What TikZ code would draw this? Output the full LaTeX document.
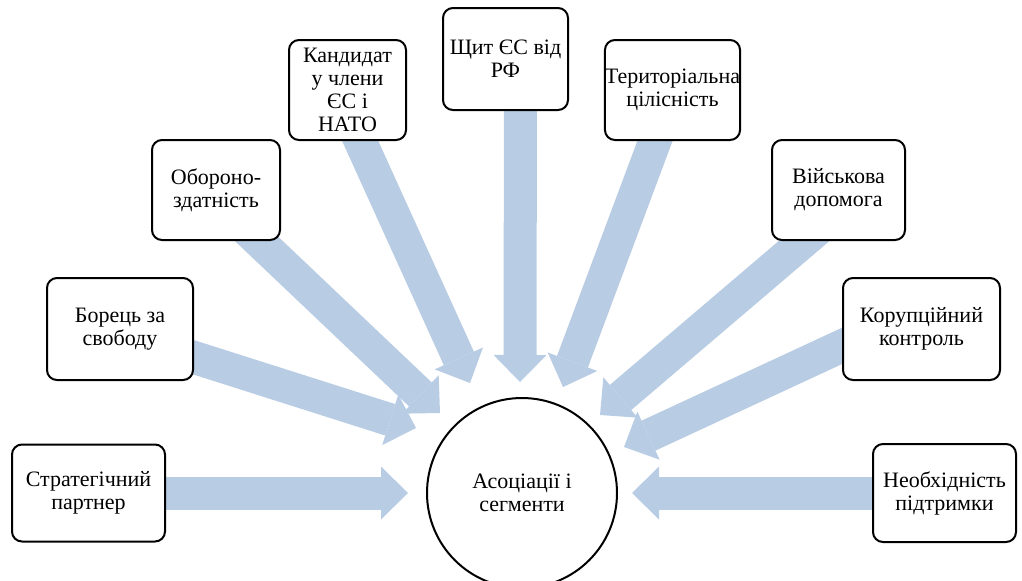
\documentclass[tikz,border=0pt]{standalone}
\usepackage{fontspec}
\setmainfont{Liberation Serif}
\usetikzlibrary{arrows.meta, backgrounds}
\definecolor{arrowfill}{RGB}{184, 204, 228}

\begin{document}
\begin{tikzpicture}[
    x=0.5pt, y=-0.5pt,
    box/.style={draw, fill=white, line width=1pt, rounded corners=5pt, inner sep=0pt, align=center, font=\fontsize{11}{11.5}\selectfont},
    hub/.style={draw, circle, fill=white, line width=1pt, minimum size=95pt, inner sep=0pt, align=center, font=\fontsize{11}{11.5}\selectfont},
    bigarrow/.style={color=arrowfill, line width=16.5pt, -{Triangle[width=26.5pt, length=13.5pt, line width=0pt]}, shorten <=-12pt}
]
    \useasboundingbox (0,0) rectangle (1022,580);

    % Boxes
    \node[box, minimum width=76.5pt, minimum height=48.5pt] (strat) at (88.5, 493) {Стратегічний\\партнер};
    \node[box, minimum width=73pt, minimum height=51pt] (fight) at (120, 329) {Борець за\\свободу};
    \node[box, minimum width=64pt, minimum height=50pt] (def) at (216, 190) {Обороно-\\здатність};
    \node[box, minimum width=58.5pt, minimum height=50pt] (cand) at (347.5, 90) {Кандидат\\у члени\\ЄС і\\НАТО};
    \node[box, minimum width=62.5pt, minimum height=51pt] (shield) at (505.5, 59) {Щит ЄС від\\РФ};
    \node[box, minimum width=67.5pt, minimum height=50pt] (terr) at (672.5, 90) {Територіальна\\цілісність};
    \node[box, minimum width=66.5pt, minimum height=50pt] (mil) at (838.5, 190) {Військова\\допомога};
    \node[box, minimum width=78.5pt, minimum height=51pt] (corr) at (921.5, 329) {Корупційний\\контроль};
    \node[box, minimum width=71.5pt, minimum height=49pt] (need) at (944.5, 493) {Необхідність\\підтримки};

    % Centre
    \node[hub] (assoc) at (522, 493) {Асоціації і\\сегменти};

    % Arrow tips
    \coordinate (t1) at (408, 493);
    \coordinate (t2) at (416, 428);
    \coordinate (t3) at (440, 413);
    \coordinate (t4) at (470, 383);
    \coordinate (t5) at (520, 382);
    \coordinate (t6) at (563, 387);
    \coordinate (t7) at (600, 415);
    \coordinate (t8) at (624, 447);
    \coordinate (t9) at (632, 493);

    % Connections
    \begin{scope}[on background layer]
        \draw[bigarrow] (strat.east) -- (t1);
        \draw[bigarrow] (fight.-21) -- (t2);
        \draw[bigarrow] (def.-50) -- (t3);
        \draw[bigarrow] (cand.-76) -- (t4);
        \draw[bigarrow] (shield.-74) -- (t5);
        \draw[bigarrow] (terr.-109) -- (t6);
        \draw[bigarrow] (mil.-124) -- (t7);
        \draw[bigarrow] (corr.-168.5) -- (t8);
        \draw[bigarrow] (need.west) -- (t9);
    \end{scope}

\end{tikzpicture}
\end{document}
